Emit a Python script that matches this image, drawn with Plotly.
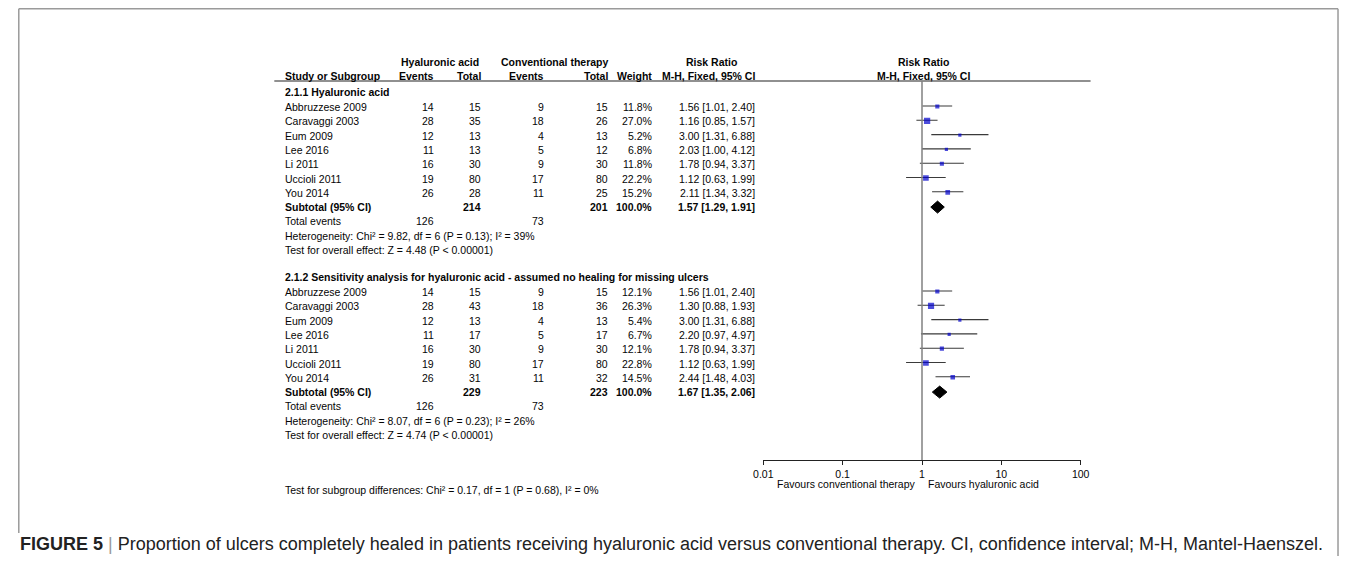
import plotly.graph_objects as go

# page is 1356x564; browser body margin is 8px, so the figure covers page 8..1348 x 8..556
PAGE_OFF = 8
W, H = 1340, 548

studies = ["Abbruzzese 2009", "Caravaggi 2003", "Eum 2009", "Lee 2016", "Li 2011", "Uccioli 2011", "You 2014"]

# Subgroup 2.1.1
g1_ha_events = [14, 28, 12, 11, 16, 19, 26]
g1_ha_total = [15, 35, 13, 13, 30, 80, 28]
g1_ct_events = [9, 18, 4, 5, 9, 17, 11]
g1_ct_total = [15, 26, 13, 12, 30, 80, 25]
g1_weight = [11.8, 27.0, 5.2, 6.8, 11.8, 22.2, 15.2]
g1_rr = [1.56, 1.16, 3.00, 2.03, 1.78, 1.12, 2.11]
g1_lo = [1.01, 0.85, 1.31, 1.00, 0.94, 0.63, 1.34]
g1_hi = [2.40, 1.57, 6.88, 4.12, 3.37, 1.99, 3.32]
g1_sub = {"ha_total": 214, "ct_total": 201, "rr": 1.57, "lo": 1.29, "hi": 1.91,
          "ha_ev": 126, "ct_ev": 73}
g1_het = "Heterogeneity: Chi² = 9.82, df = 6 (P = 0.13); I² = 39%"
g1_test = "Test for overall effect: Z = 4.48 (P < 0.00001)"

# Subgroup 2.1.2
g2_ha_events = [14, 28, 12, 11, 16, 19, 26]
g2_ha_total = [15, 43, 13, 17, 30, 80, 31]
g2_ct_events = [9, 18, 4, 5, 9, 17, 11]
g2_ct_total = [15, 36, 13, 17, 30, 80, 32]
g2_weight = [12.1, 26.3, 5.4, 6.7, 12.1, 22.8, 14.5]
g2_rr = [1.56, 1.30, 3.00, 2.20, 1.78, 1.12, 2.44]
g2_lo = [1.01, 0.88, 1.31, 0.97, 0.94, 0.63, 1.48]
g2_hi = [2.40, 1.93, 6.88, 4.97, 3.37, 1.99, 4.03]
g2_sub = {"ha_total": 229, "ct_total": 223, "rr": 1.67, "lo": 1.35, "hi": 2.06,
          "ha_ev": 126, "ct_ev": 73}
g2_het = "Heterogeneity: Chi² = 8.07, df = 6 (P = 0.23); I² = 26%"
g2_test = "Test for overall effect: Z = 4.74 (P < 0.00001)"

subgroup_test = "Test for subgroup differences: Chi² = 0.17, df = 1 (P = 0.68), I² = 0%"
tick_vals = [0.01, 0.1, 1, 10, 100]
tick_text = ["0.01", "0.1", "1", "10", "100"]

FONT = "Liberation Sans, Arial, sans-serif"
TXT = "#050505"
FS = 10.5

fig = go.Figure()
annotations = []


def px(x):
    return (x - PAGE_OFF) / W


def py(y):
    return 1 - (y - PAGE_OFF) / H


def txt(x, y, s, anchor="left", bold=False, size=FS, color=TXT, family=FONT):
    if bold:
        s = "<b>" + s + "</b>"
    annotations.append(dict(x=px(x), y=py(y), xref="paper", yref="paper",
                            text=s, showarrow=False, xanchor=anchor, yanchor="middle",
                            borderpad=0,
                            font=dict(size=size, color=color, family=family)))


# column positions (page pixels)
X_LABEL = 278
X_HAE, X_HAT, X_CTE, X_CTT, X_W, X_CI = 431, 479, 543, 607, 652, 757
X_FOREST = 927

# headers
txt(436, 62, "Hyaluronic acid", "center", True)
txt(553, 62, "Conventional therapy", "center", True)
txt(711, 62, "Risk Ratio", "center", True)
txt(X_FOREST, 62, "Risk Ratio", "center", True)
txt(X_LABEL, 76, "Study or Subgroup", "left", True)
txt(X_HAE, 76, "Events", "right", True)
txt(X_HAT, 76, "Total", "right", True)
txt(X_CTE, 76, "Events", "right", True)
txt(X_CTT, 76, "Total", "right", True)
txt(X_W, 76, "Weight", "right", True)
txt(X_CI, 76, "M-H, Fixed, 95% CI", "right", True)
txt(X_FOREST, 76, "M-H, Fixed, 95% CI", "center", True)

groups = [
    ("2.1.1 Hyaluronic acid", 92, g1_ha_events, g1_ha_total, g1_ct_events, g1_ct_total,
     g1_weight, g1_rr, g1_lo, g1_hi, g1_sub, g1_het, g1_test),
    ("2.1.2 Sensitivity analysis for hyaluronic acid - assumed no healing for missing ulcers", 277,
     g2_ha_events, g2_ha_total, g2_ct_events, g2_ct_total,
     g2_weight, g2_rr, g2_lo, g2_hi, g2_sub, g2_het, g2_test),
]

STEP = 14.3
for (title, y0, hae, hat, cte, ctt, wt, rr, lo, hi, sub, het, test) in groups:
    txt(X_LABEL, y0, title, "left", True)
    ys = [y0 + 15 + STEP * i for i in range(len(studies))]
    for i, s in enumerate(studies):
        y = ys[i]
        txt(X_LABEL, y, s)
        txt(X_HAE, y, str(hae[i]), "right")
        txt(X_HAT, y, str(hat[i]), "right")
        txt(X_CTE, y, str(cte[i]), "right")
        txt(X_CTT, y, str(ctt[i]), "right")
        txt(X_W, y, f"{wt[i]:.1f}%", "right")
        txt(X_CI, y, f"{rr[i]:.2f} [{lo[i]:.2f}, {hi[i]:.2f}]", "right")
        fig.add_trace(go.Scatter(x=[lo[i], hi[i]], y=[y - 1, y - 1], mode="lines",
                                 line=dict(color="#3a3a3a", width=1.1),
                                 showlegend=False, hoverinfo="skip"))
    fig.add_trace(go.Scatter(x=rr, y=[y - 0.5 for y in ys], mode="markers",
                             marker=dict(symbol="square", color="#0000CC",
                                         size=[max(3.2, 1.2 * w ** 0.5) for w in wt],
                                         line=dict(width=0)),
                             showlegend=False, hoverinfo="skip"))
    ysub = ys[-1] + STEP
    txt(X_LABEL, ysub, "Subtotal (95% CI)", "left", True)
    txt(X_HAT, ysub, str(sub["ha_total"]), "right", True)
    txt(X_CTT, ysub, str(sub["ct_total"]), "right", True)
    txt(X_W, ysub, "100.0%", "right", True)
    txt(X_CI, ysub, f"{sub['rr']:.2f} [{sub['lo']:.2f}, {sub['hi']:.2f}]", "right", True)
    dh = 6
    fig.add_trace(go.Scatter(x=[sub["lo"], sub["rr"], sub["hi"], sub["rr"], sub["lo"]],
                             y=[ysub, ysub - dh, ysub, ysub + dh, ysub],
                             mode="lines", fill="toself", fillcolor="black",
                             line=dict(color="black", width=1),
                             showlegend=False, hoverinfo="skip"))
    yte = ysub + STEP
    txt(X_LABEL, yte, "Total events")
    txt(X_HAE, yte, str(sub["ha_ev"]), "right")
    txt(X_CTE, yte, str(sub["ct_ev"]), "right")
    txt(X_LABEL, yte + STEP, het)
    txt(X_LABEL, yte + 2 * STEP, test)

txt(X_LABEL, 490, subgroup_test)
txt(919, 484, "Favours conventional therapy", "right")
txt(930, 484, "Favours hyaluronic acid", "left")

# caption
annotations.append(dict(x=px(9), y=py(544), xref="paper", yref="paper",
                        text="<b>FIGURE 5</b> <span style='color:#9a9a9a'>|</span> Proportion of ulcers completely healed in patients receiving hyaluronic acid versus conventional therapy. CI, confidence interval; M-H, Mantel-Haenszel.",
                        showarrow=False, xanchor="left", yanchor="middle", borderpad=0,
                        font=dict(size=18, color="#222222", family="Liberation Sans, Arial, sans-serif")))

FR = "#9a9a9a"
shapes = [
    # frame (left, top, right)
    dict(type="line", xref="paper", yref="paper", x0=px(8.8), x1=px(8.8), y0=py(8.8), y1=py(533),
         line=dict(color=FR, width=1.5)),
    dict(type="line", xref="paper", yref="paper", x0=px(8.8), x1=px(1347), y0=py(8.8), y1=py(8.8),
         line=dict(color=FR, width=1.5)),
    dict(type="line", xref="paper", yref="paper", x0=px(1347), x1=px(1347), y0=py(8.8), y1=-0.1,
         line=dict(color=FR, width=1.5)),
    # header underline
    dict(type="line", xref="paper", yref="paper", x0=px(268), x1=px(1096),
         y0=py(81), y1=py(81), line=dict(color="#222222", width=1.2)),
    # line of no effect
    dict(type="line", xref="x", yref="y", x0=1, x1=1, y0=81, y1=460,
         line=dict(color="#808080", width=1.5)),
]

fig.update_layout(
    width=W, height=H, margin=dict(l=0, r=0, t=0, b=0),
    paper_bgcolor="white", plot_bgcolor="rgba(0,0,0,0)",
    annotations=annotations, shapes=shapes,
    xaxis=dict(type="log", range=[-2, 2], domain=[px(764), px(1086)],
               anchor="free", position=py(460),
               showline=True, linecolor="#222222", linewidth=1.2,
               ticks="outside", ticklen=4, tickcolor="#222222",
               tickvals=tick_vals, ticktext=tick_text,
               tickfont=dict(size=FS, color=TXT, family=FONT),
               showgrid=False, zeroline=False, fixedrange=True),
    yaxis=dict(range=[H + PAGE_OFF, PAGE_OFF], domain=[0, 1], visible=False,
               showgrid=False, fixedrange=True),
)

fig.write_html("out.html")
